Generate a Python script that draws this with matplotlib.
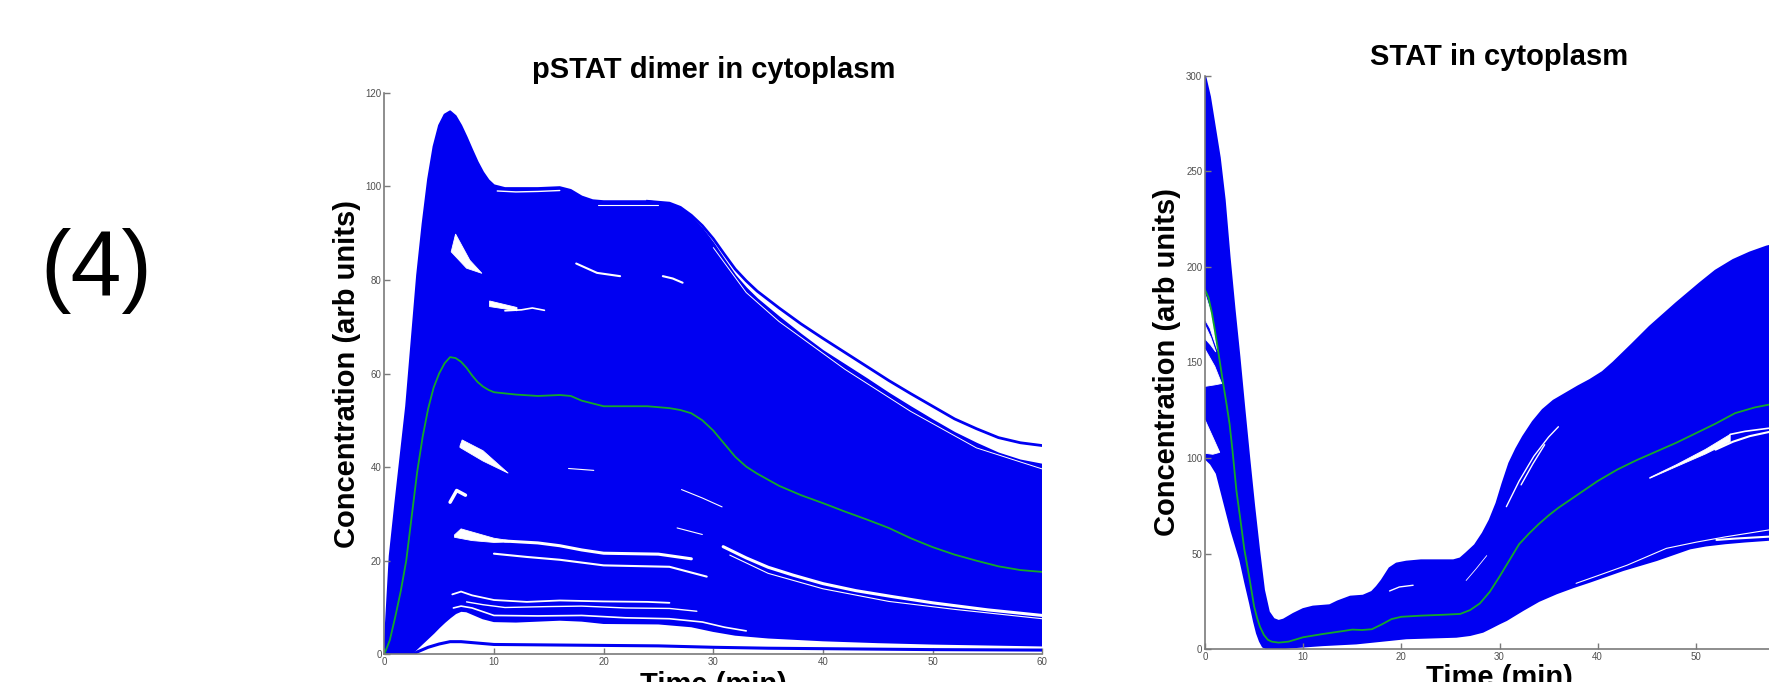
import numpy as np
import matplotlib.pyplot as plt

plt.rcParams['font.family'] = ['Liberation Sans', 'DejaVu Sans']

# ---- pSTAT dimer in cytoplasm (left panel) ----
t_pd = [0, 0.5, 1, 2, 3, 3.5, 4, 4.5, 5, 5.5, 6, 6.5, 7, 7.5, 8, 8.5, 9, 9.5, 10, 11, 12, 14, 16, 17, 18, 19, 20,
        22, 24, 26, 27, 28, 29, 30, 31, 32, 33, 34, 36, 38, 40, 42, 44, 46, 48, 50, 52, 54, 56, 58, 60]
pd_upper = [0, 21, 32, 53, 81, 92, 101.5, 108.5, 113, 115.3, 116, 115, 113, 110.5, 107.8, 105.2, 103, 101.3, 100.2,
            99.6, 99.6, 99.6, 99.8, 99.2, 97.8, 97, 96.8, 96.8, 96.8, 96.2, 95.2, 93.3, 90.9, 87.8, 84.3, 80.9, 78.2,
            75.9, 72.0, 68.3, 64.8, 61.8, 58.8, 55.7, 52.8, 50, 47.3, 45, 42.9, 41.4, 40.5]
t_pd_low = [0, 2.5, 3, 3.5, 4, 4.5, 5, 5.5, 6, 6.5, 7, 7.5, 8, 9, 10, 12, 14, 16, 18, 20, 25, 28, 30, 32, 35, 40,
            45, 50, 55, 60]
pd_lower = [0, 0.2, 1.3, 2.4, 3.5, 4.6, 5.8, 6.9, 7.9, 8.8, 9.3, 9.2, 8.7, 7.7, 7.1, 7.0, 7.2, 7.4, 7.2, 6.7, 6.6,
            6.0, 5.0, 4.2, 3.6, 3.0, 2.6, 2.3, 2.1, 1.9]
t_pd_outer = [24, 26, 27, 28, 29, 30, 31, 32, 33, 34, 36, 38, 40, 42, 44, 46, 48, 50, 52, 54, 56, 58, 60]
pd_outer = [96.8, 96.4, 95.5, 93.8, 91.6, 88.8, 85.5, 82.3, 79.8, 77.6, 74, 70.6, 67.5, 64.5, 61.5, 58.5, 55.7,
            53, 50.3, 48.2, 46.3, 45.2, 44.6]
t_pd_bottom = [2.6, 3, 4, 5, 6, 7, 8, 10, 15, 20, 25, 30, 35, 40, 50, 60]
pd_bottom = [0, 0.5, 1.5, 2.2, 2.7, 2.7, 2.5, 2.1, 2.0, 1.9, 1.8, 1.5, 1.3, 1.2, 1.0, 0.9]
t_pd_mean = [0, 0.5, 1, 1.5, 2, 2.5, 3, 3.5, 4, 4.5, 5, 5.5, 6, 6.5, 7, 7.5, 8, 8.5, 9, 9.5, 10, 12, 14, 16, 17,
             18, 20, 22, 24, 26, 27, 28, 29, 30, 31, 32, 33, 34, 36, 38, 40, 42, 44, 46, 48, 50, 52, 54, 56, 58, 60]
pd_mean = [0, 3, 8, 13.5, 20, 29.5, 39, 46.5, 52.5, 57, 60, 62.2, 63.5, 63.3, 62.5, 61.2, 59.6, 58.2, 57.2, 56.5,
           56, 55.5, 55.2, 55.4, 55.2, 54.2, 53, 53, 53, 52.6, 52.2, 51.5, 50.0, 47.8, 45.0, 42.2, 40.1, 38.6,
           36.0, 34.0, 32.3, 30.5, 28.8, 27, 24.8, 22.9, 21.3, 20, 18.8, 18, 17.6]

# holes in the ensemble: (t_top, v_top, t_bottom, v_bottom)
pd_holes = [
    ([6.1, 6.5, 7.8, 8.9], [86, 89.8, 84.2, 81.4], [6.1, 7.5, 8.9], [86, 82.5, 81.4]),
    ([9.6, 12.1], [75.5, 74.1], [9.6, 12.1], [74.3, 73.4]),
    ([6.9, 7.1, 9, 11.3], [44.5, 45.8, 43.5, 38.7], [6.9, 9, 11.3], [44.2, 41.3, 38.7]),
    ([6.4, 7, 8.5, 10, 11.4], [25.5, 26.8, 25.8, 24.8, 24.3], [6.4, 8, 10, 11.4], [25.0, 24.3, 23.9, 24.0]),
]
# thin gaps between trajectories: (t, v)
pd_gaps = [
    ([11, 12.5, 13.5, 14.6], [73.4, 73.6, 74.0, 73.5]),
    ([17.5, 19.4, 21.5], [83.5, 81.5, 80.8]),
    ([25.4, 26.3, 27.2], [80.8, 80.3, 79.4]),
    ([6.0, 6.6, 7.4], [32.5, 35.0, 34.0]),
    ([11, 14, 16, 18, 20, 25, 28], [24.2, 23.8, 23.2, 22.3, 21.6, 21.4, 20.4]),
    ([10, 13, 16, 20, 26, 29.4], [21.5, 20.8, 20.2, 19.0, 18.7, 16.6]),
    ([30.9, 33, 35, 37.3, 40, 43, 46.4, 50, 55, 60], [23.0, 20.6, 18.6, 16.9, 15.1, 13.6, 12.3, 11.0, 9.5, 8.3]),
    ([31.5, 35, 40, 46, 52, 60], [21.2, 17.3, 14.0, 11.3, 9.6, 7.6]),
    ([6.2, 7, 8, 10, 13, 16, 20, 24, 26], [12.8, 13.4, 12.6, 11.6, 11.2, 11.5, 11.3, 11.2, 11.0]),
    ([7.5, 9, 11, 15, 18, 22, 26, 28.5], [11.2, 10.6, 10.0, 10.2, 10.3, 9.9, 9.8, 9.2]),
    ([6.3, 7, 8, 10, 14, 18, 22, 26, 29, 31, 33], [9.9, 10.3, 9.9, 8.3, 8.2, 8.3, 7.8, 7.6, 6.9, 5.8, 5.0]),
    ([16.8, 19.1], [39.7, 39.3]),
    ([27.1, 29, 30.8], [35.2, 33.4, 31.5]),
    ([26.7, 29.0], [27.0, 25.6]),
    ([10.3, 12, 14, 16], [99.0, 98.8, 98.9, 99.1]),
    ([19.5, 22, 25], [96.0, 96.0, 96.0]),
    ([30, 33, 36, 42, 48, 54, 60], [86.9, 77.3, 71.1, 60.9, 51.9, 44.1, 39.6]),
]
pd_gap_widths = [1.2, 1.5, 1.5, 2.5, 2.2, 1.5, 2.2, 0.8, 1.3, 1.0, 1.2, 0.8, 0.8, 0.8, 1.0, 0.8, 0.7]

# ---- STAT in cytoplasm (right panel) ----
t_st_up = [0, 0.5, 1, 1.5, 2, 2.5, 3, 3.5, 4, 4.5, 5, 5.5, 6, 6.5, 7, 7.5, 8, 9, 10, 11, 12.7, 13.5, 14.8, 16.1,
           17, 17.5, 18, 18.8, 19.5, 20.5, 22, 25.3, 26, 26.6, 27.5, 28.3, 29, 29.7, 30.3, 31, 31.7, 32.4, 33.4,
           34.4, 35.5, 36.8, 38, 39.2, 40.5, 41.6, 43.5, 45.3, 48, 50.4, 52, 53.8, 55.5, 57.2, 60]
st_upper = [300, 289, 273, 257, 235, 205, 178, 153, 126, 100, 75, 52, 31, 19.5, 15.8, 14.8, 15.5, 18.5, 21, 22.3,
            23, 25, 27.5, 28, 30, 32.7, 36, 42.4, 44.8, 45.8, 46.5, 46.5, 47.5, 50.2, 54.5, 60.7, 67.5, 76.4, 86.5,
            97.3, 104.8, 111.2, 119, 125.2, 130, 133.9, 137.5, 140.8, 145, 150, 159.5, 168.7, 181, 191.4, 198,
            203.6, 207.5, 210.6, 214]
t_st_low = [0, 0.6, 1.2, 1.9, 2.7, 3.6, 4.1, 4.6, 5, 5.3, 5.6, 5.9, 6.4, 7, 8.7, 12, 15.4, 18.8, 20.5, 25.6, 27,
            28.3, 29.2, 30, 30.7, 31.5, 32.4, 34, 35.8, 37.5, 39.2, 42.6, 46, 49.4, 51, 53, 55, 57.2, 60]
st_lower = [100, 97, 92, 78, 62, 46.7, 35, 24, 14.5, 8.4, 4.2, 1.4, 0.3, 0, 1, 2.2, 3.1, 4.9, 5.8, 6.6, 7.5,
            9.2, 11.5, 13.6, 15.3, 17.8, 20.6, 25.3, 29.3, 32.5, 35.4, 41.5, 46.7, 52.8, 54.3, 55.5, 56.4, 57.2, 58.5]
t_st_mean = [0, 0.35, 0.7, 1.0, 1.4, 1.8, 2.2, 2.5, 2.8, 3.2, 3.6, 4, 4.5, 5, 5.3, 5.6, 6.0, 6.4, 6.8, 7.5, 8.5,
             10, 12, 14, 15, 16, 17, 18, 19, 20, 22, 24, 26, 27, 28, 29, 30, 31, 32, 33, 34, 35, 36, 38, 40, 42,
             44, 46, 48, 50, 52, 54, 56, 58, 60]
st_mean = [188, 184, 176, 167, 154, 140.7, 128, 118, 104, 83, 68, 52.5, 38, 22.5, 16.5, 11.8, 7.5, 5, 4, 3.5, 4,
           6.3, 8, 9.5, 10.3, 10.1, 10.5, 13, 15.8, 17, 17.6, 18, 18.5, 20.5, 24, 30, 38, 46.5, 55, 60.5, 65.5, 70,
           74, 81, 88, 94, 99, 103.5, 108, 113, 118, 123.5, 126.5, 128.5, 130]

st_holes = [
    ([0, 0.6, 1.3], [186, 176.5, 156], [0, 0.5, 1.3], [172.5, 168, 156]),
    ([0, 0.6, 1.1], [169.5, 163, 155.5], [0, 0.6, 1.1], [162.5, 159, 155.5]),
    ([0, 1.0, 1.7], [157, 148, 139], [0, 1.0, 1.7], [137.5, 138.3, 139]),
    ([0, 0.8, 1.5], [120, 111, 103], [0, 0.8, 1.5], [102.5, 102, 103]),
    ([45.3, 48, 51, 53.5], [89.8, 96.5, 104.6, 112.4], [45.3, 48, 51, 53.5], [89.4, 95.5, 102.2, 108.6]),
]
st_gaps = [
    ([30.7, 32, 33.5, 35, 36], [74.6, 88, 101, 111, 116.4]),
    ([32.2, 33.4, 34.6], [86, 97, 107]),
    ([26.6, 27.6, 28.7], [36, 42, 49]),
    ([18.8, 19.8, 21.2], [30.5, 32.6, 33.5]),
    ([53.5, 55, 57.4, 60], [112.4, 114, 115.6, 116.5]),
    ([52.0, 53.8, 55.5, 57.4, 60], [104.4, 108.6, 111.5, 113.6, 114.8]),
    ([37.8, 40, 43, 47, 50, 53, 57.4, 60], [34.5, 38.5, 44, 52.8, 56, 58.8, 62.4, 64]),
    ([52.1, 54, 56, 57.4, 60], [57.2, 57.9, 58.5, 58.9, 59.5]),
]
st_gap_widths = [1.0, 1.0, 0.6, 1.0, 1.2, 1.5, 0.8, 1.5]

BLUE = '#0000f2'
GREEN = '#14a829'
AXIS_GREY = '#7a7a7a'

fig = plt.figure(figsize=(17.69, 6.82), dpi=100)
W, H = 1769, 682
ax1 = fig.add_axes([384.3 / W, 1 - 654.3 / H, 658 / W, 561.6 / H])
ax2 = fig.add_axes([1205 / W, 1 - 649.3 / H, 589 / W, 573.6 / H])


def draw_panel(ax, t_up, up, t_lo, lo, t_mean, mean, holes, gaps, widths):
    xs = np.r_[t_up, t_lo[::-1]]
    ys = np.r_[up, lo[::-1]]
    ax.fill(xs, ys, color=BLUE, lw=1.5, ec=BLUE, joinstyle='round', zorder=1)
    for tt, vt, tb, vb in holes:
        ax.fill(np.r_[tt, tb[::-1]], np.r_[vt, vb[::-1]], color='white', lw=0.6, ec='white', zorder=2)
    for (t, v), w in zip(gaps, widths):
        ax.plot(t, v, color='white', lw=w, solid_capstyle='round', solid_joinstyle='round', zorder=2)
    ax.plot(t_mean, mean, color=GREEN, lw=1.3, solid_joinstyle='round', zorder=4)


draw_panel(ax1, t_pd, pd_upper, t_pd_low, pd_lower, t_pd_mean, pd_mean, pd_holes, pd_gaps, pd_gap_widths)
ax1.plot(t_pd_outer, pd_outer, color=BLUE, lw=2.0, solid_joinstyle='round', zorder=3)
ax1.plot(t_pd_bottom, pd_bottom, color=BLUE, lw=2.2, solid_joinstyle='round', zorder=3)

draw_panel(ax2, t_st_up, st_upper, t_st_low, st_lower, t_st_mean, st_mean, st_holes, st_gaps, st_gap_widths)

for ax, ymax, ystep in [(ax1, 120, 20), (ax2, 300, 50)]:
    ax.set_xlim(0, 60)
    ax.set_ylim(0, ymax)
    ax.set_xticks(range(0, 61, 10))
    ax.set_yticks(range(0, ymax + 1, ystep))
    for s in ['top', 'right']:
        ax.spines[s].set_visible(False)
    for s in ['left', 'bottom']:
        ax.spines[s].set_color(AXIS_GREY)
        ax.spines[s].set_linewidth(1.2)
        ax.spines[s].set_zorder(5)
    ax.tick_params(direction='in', length=4, width=1, color=AXIS_GREY,
                   labelsize=7, labelcolor='#505050', pad=2)
    ax.set_ylabel('Concentration (arb units)', fontsize=21, fontweight='bold')
    ax.set_xlabel('Time (min)', fontsize=21, fontweight='bold')

ax1.set_title('pSTAT dimer in cytoplasm', fontsize=21, fontweight='bold', pad=10.5)
ax2.set_title('STAT in cytoplasm', fontsize=21, fontweight='bold', pad=8)

ax1.yaxis.set_label_coords(-0.035, 0.5)
ax2.yaxis.set_label_coords(-0.041, 0.5)
ax1.xaxis.set_label_coords(0.5, -0.03)
ax2.xaxis.set_label_coords(0.5, -0.026)

fig.text(96 / W, 1 - 271 / H, '(4)', fontsize=66, ha='center', va='center')

fig.savefig('out.png', dpi=100)
